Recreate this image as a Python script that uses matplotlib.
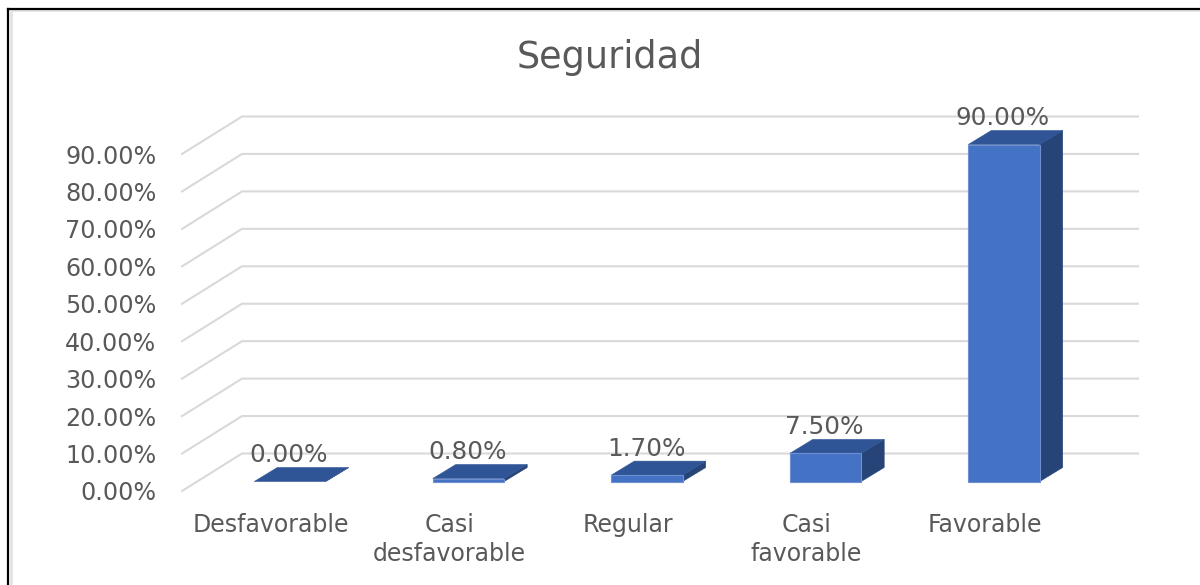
import matplotlib
matplotlib.use("Agg")
import matplotlib.pyplot as plt
from matplotlib.patches import Polygon
from matplotlib.lines import Line2D
from matplotlib.transforms import ScaledTranslation, IdentityTransform

categories = ["Desfavorable", "Casi\ndesfavorable", "Regular", "Casi\nfavorable", "Favorable"]
values = [0.0, 0.8, 1.7, 7.5, 90.0]
value_labels = ["0.00%", "0.80%", "1.70%", "7.50%", "90.00%"]
y_ticks = [0, 10, 20, 30, 40, 50, 60, 70, 80, 90]
y_tick_labels = ["0.00%", "10.00%", "20.00%", "30.00%", "40.00%", "50.00%", "60.00%", "70.00%", "80.00%", "90.00%"]

W, H = 1200, 585
TXT = "#595959"
GRID = "#D9D9D9"
FRONT, TOP, SIDE = "#4472C4", "#2F5597", "#264478"

plt.rcParams["font.family"] = "DejaVu Sans"
fig = plt.figure(figsize=(W / 100, H / 100), dpi=100, facecolor="white")


def px(dx, dy):
    """Offset in screen pixels (y up)."""
    return ScaledTranslation(dx / 100, dy / 100, fig.dpi_scale_trans)


# Axes: front plane of the 3-D box. x spans the floor, y is the percentage scale.
left, right, bottom, top = 182, 1078, 491, 154
ax = fig.add_axes([left / W, 1 - bottom / H, (right - left) / W, (bottom - top) / H])
x0 = (left - 290) / 178.5
x1 = (right - 290) / 178.5
ax.set_xlim(x0, x1)
ax.set_ylim(0, 90)
ax.patch.set_visible(False)
for s in ax.spines.values():
    s.set_visible(False)
ax.set_yticks(y_ticks, y_tick_labels, color=TXT, fontsize=17.2)
ax.tick_params(axis="y", length=0, pad=18.5)
ax.set_xticks([])

# Gridlines: side wall diagonal then back wall, anchored at each tick's pixel position
for v in y_ticks:
    ln = Line2D([0, 60, 956], [0, 37.5, 37.5], color=GRID, lw=1.5, clip_on=False, zorder=1,
                transform=IdentityTransform() + px(left, (H - bottom) + v * 3.7444))
    ax.add_line(ln)

# Bars: sit a little in front of the back wall, drawn as three faces
half_w = 0.2
bar_off = px(0, 9.5)
bdx, bdy = 23, 14
base = ax.transData + bar_off
off = base + px(bdx, bdy)
for i, (v, lab) in enumerate(zip(values, value_labels)):
    # side
    pts = list(base.transform([(i + half_w, 0), (i + half_w, v)])) + list(off.transform([(i + half_w, v), (i + half_w, 0)]))
    ax.add_patch(Polygon(pts, closed=True, fc=SIDE, ec=SIDE, lw=0.4, transform=IdentityTransform(),
                         clip_on=False, zorder=3))
    # top
    pts = list(base.transform([(i - half_w, v), (i + half_w, v)])) + list(off.transform([(i + half_w, v), (i - half_w, v)]))
    ax.add_patch(Polygon(pts, closed=True, fc=TOP, ec=TOP, lw=0.4, transform=IdentityTransform(),
                         clip_on=False, zorder=3))
    # front
    if v > 0:
        ax.add_patch(Polygon([(i - half_w, 0), (i + half_w, 0), (i + half_w, v), (i - half_w, v)],
                             closed=True, fc=FRONT, ec="#6E90D0", lw=0.8, transform=base,
                             clip_on=False, zorder=4))
    # value label
    ax.annotate(lab, xy=(i, v), xycoords="data", xytext=(-1, 36), textcoords="offset pixels",
                ha="center", va="center", color=TXT, fontsize=17.8, zorder=6, annotation_clip=False)
    # category label
    ax.annotate(categories[i], xy=(i, 0), xycoords=("data", "axes fraction"), xytext=(-19, -22),
                textcoords="offset pixels", ha="center", va="top", color=TXT, fontsize=17,
                linespacing=1.27, annotation_clip=False)

fig.text(609.5 / W, 1 - 57 / H, "Seguridad", ha="center", va="center", color=TXT, fontsize=26.3)

# Image border: black on top and left with a soft grey inner edge
for xs, ys, c, lw in [([11, 11], [585, 11], "#E2E2E2", 2.0), ([11, 1200], [11, 11], "#E8E8E8", 1.5),
                      ([8, 8], [585, 9], "black", 1.6), ([8, 1200], [9, 9], "black", 1.6)]:
    fig.add_artist(Line2D([x / W for x in xs], [1 - y / H for y in ys], color=c, lw=lw,
                          transform=fig.transFigure))

fig.savefig("out.png", dpi=100, facecolor="white")
